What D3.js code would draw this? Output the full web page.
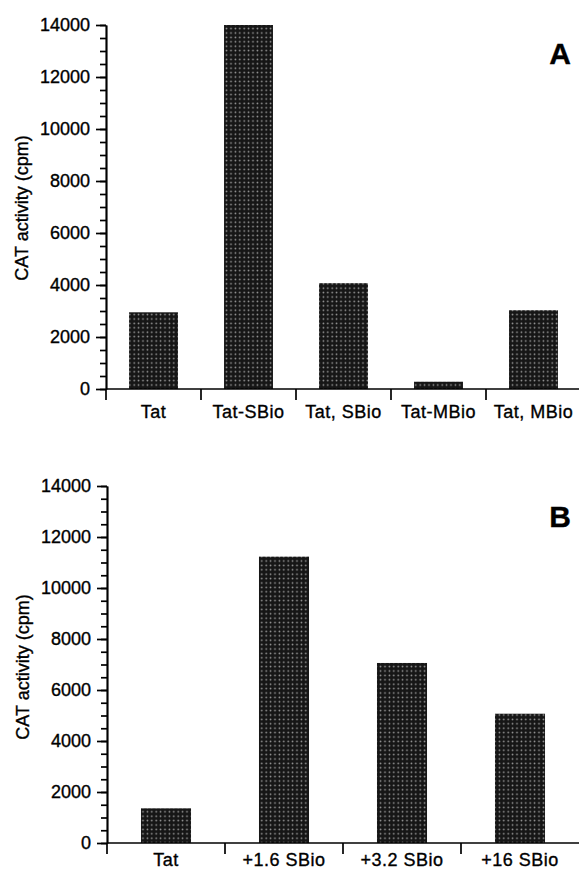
<!DOCTYPE html>
<html lang="en">
<head>
    <meta charset="UTF-8">
    <script src="https://d3js.org/d3.v7.min.js"></script>
    <style>
        body { margin: 0; background: #fff; }
        svg { display: block; font-family: "Liberation Sans", Arial, Helvetica, sans-serif; }
        svg text { fill: #000; stroke: #000; stroke-width: 0.35px; }
        .axis path, .axis line { stroke: #000; stroke-width: 1.7px; }
        .axis text { font-size: 18px; }
        .lab { font-size: 19px; letter-spacing: 0.5px; }
    </style>
</head>
<body>
    <svg width="579" height="875"></svg>
    <script>
        // panel A
        let catsA = ["Tat", "Tat-SBio", "Tat, SBio", "Tat-MBio", "Tat, MBio"];
        let valsA = [2950, 14000, 4070, 280, 3030];
        // panel B
        let catsB = ["Tat", "+1.6 SBio", "+3.2 SBio", "+16 SBio"];
        let valsB = [1360, 11230, 7060, 5070];

        let yMajor = [0, 2000, 4000, 6000, 8000, 10000, 12000, 14000];
        let yMinor = d3.range(0, 14001, 500);

        let svg = d3.select("svg");

        // halftone fill like the scanned bars
        let pat = svg.append("defs").append("pattern")
            .attr("id", "dots")
            .attr("patternUnits", "userSpaceOnUse")
            .attr("width", 4.4).attr("height", 4.4);
        pat.append("rect").attr("width", 4.4).attr("height", 4.4).attr("fill", "#161616");
        pat.append("circle").attr("cx", 2.2).attr("cy", 2.2).attr("r", 0.85).attr("fill", "#a0a0a0");

        function panel(cats, vals, o) {
            let g = svg.append("g");

            let x = d3.scaleBand()
                .domain(cats)
                .range([o.left, o.right])
                .paddingInner(o.pad)
                .paddingOuter(o.pad / 2);

            let y = d3.scaleLinear()
                .domain([0, 14000])
                .range([o.bottom, o.top]);

            // bars
            g.selectAll(".bar")
                .data(vals)
                .enter().append("rect")
                .attr("class", "bar")
                .attr("x", (d, i) => x(cats[i]))
                .attr("y", d => y(d))
                .attr("width", x.bandwidth())
                .attr("height", d => y(0) - y(d))
                .attr("fill", "url(#dots)");

            // minor ticks
            g.append("g")
                .attr("class", "axis")
                .attr("transform", `translate(${o.left},0)`)
                .call(d3.axisLeft(y).tickValues(yMinor).tickSize(6).tickSizeOuter(0).tickFormat(""));

            // major ticks with labels
            g.append("g")
                .attr("class", "axis")
                .attr("transform", `translate(${o.left},0)`)
                .call(d3.axisLeft(y).tickValues(yMajor).tickSize(10).tickPadding(6).tickSizeOuter(0).tickFormat(d => d));

            // x axis: line, boundary ticks, labels
            let xa = g.append("g").attr("class", "axis");
            xa.append("line")
                .attr("x1", o.left).attr("x2", o.right)
                .attr("y1", y(0)).attr("y2", y(0));
            xa.selectAll(".sep")
                .data(cats)
                .enter().append("line")
                .attr("class", "sep")
                .attr("x1", d => x(d) - x.step() * x.paddingInner() / 2)
                .attr("x2", d => x(d) - x.step() * x.paddingInner() / 2)
                .attr("y1", y(0)).attr("y2", y(0) + 11);
            xa.selectAll(".lab")
                .data(cats)
                .enter().append("text")
                .attr("class", "lab")
                .attr("x", d => x(d) + x.bandwidth() / 2)
                .attr("y", o.labelY)
                .attr("text-anchor", "middle")
                .text(d => d);

            // y title
            g.append("text")
                .attr("transform", `translate(${o.titleX},${o.titleY}) rotate(-90)`)
                .attr("text-anchor", "middle")
                .attr("font-size", "18px")
                .text("CAT activity (cpm)");

            // panel letter
            g.append("text")
                .attr("x", 560).attr("y", o.letterY)
                .attr("text-anchor", "middle")
                .attr("font-size", "30px")
                .attr("font-weight", "bold")
                .text(o.letter);
        }

        panel(catsA, valsA, { left: 106, right: 581, top: 25, bottom: 389, pad: 0.485,
            labelY: 418, titleX: 28, titleY: 208, letter: "A", letterY: 64 });
        panel(catsB, valsB, { left: 107, right: 579, top: 486, bottom: 843, pad: 0.576,
            labelY: 866, titleX: 29, titleY: 667, letter: "B", letterY: 527 });
    </script>
</body>
</html>
